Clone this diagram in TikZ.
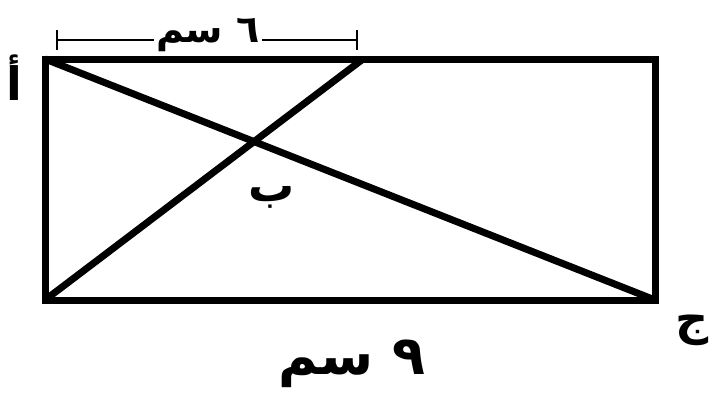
\documentclass[tikz,border=0pt]{standalone}
\usepackage{fontspec}
\newfontfamily\arabicfont[Script=Arabic]{DejaVu Sans}
\TeXXeTstate=1
\begin{document}
\begin{tikzpicture}[x=1pt,y=-1pt,
  edge/.style={line width=7pt,line cap=rect},
  dimline/.style={line width=1.5pt},
  lbl/.style={font=\arabicfont\bfseries\fontsize{46}{50}\selectfont,inner sep=0pt}]
\useasboundingbox (0,0) rectangle (716,399);
\coordinate (A) at (45,59);
\coordinate (B) at (655,59);
\coordinate (C) at (655,300);
\coordinate (D) at (45,300);
\coordinate (E) at (363,59);
\draw[edge] (A) -- (B) -- (C) -- (D) -- cycle;
\draw[edge,line cap=butt] (A) -- (C);
\draw[edge,line cap=butt] (D) -- (E);
% dimension
\coordinate (d1) at (57,40);
\coordinate (d2) at (357,40);
\node[lbl,font=\arabicfont\bfseries\fontsize{38}{42}\selectfont] (six) at (208,35) {\beginR ٦ سم\endR};
\draw[dimline] (d1) -- ([xshift=-2pt]six.west|-d1);
\draw[dimline] ([xshift=2pt]six.east|-d2) -- (d2);
\draw[dimline] (57,30) -- (57,50);
\draw[dimline] (357,30) -- (357,50);
\node[lbl] (a) at (14,78) {\beginR أ\endR};
\node[lbl] (b) at (272,197) {\beginR ب\endR};
\node[lbl] (c) at (692,330) {\beginR ج\endR};
\node[lbl,font=\arabicfont\bfseries\fontsize{54}{60}\selectfont] (nine) at (352,364) {\beginR ٩ سم\endR};
\end{tikzpicture}
\end{document}
